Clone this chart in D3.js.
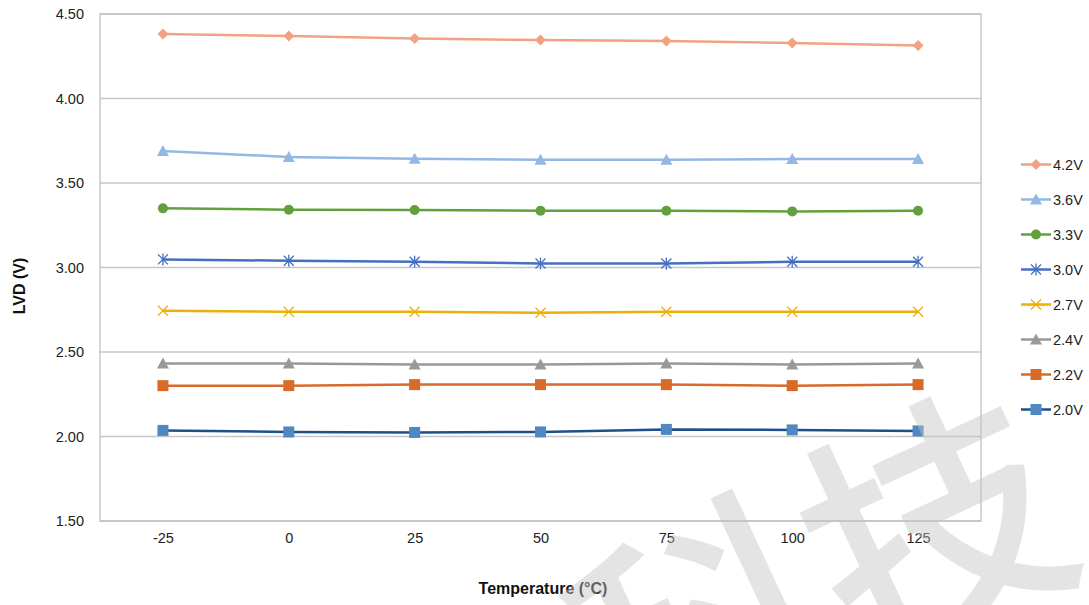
<!DOCTYPE html>
<html><head><meta charset="utf-8">
<script src="https://cdn.jsdelivr.net/npm/d3@7"></script>
<style>body{margin:0;background:#fff;} svg{display:block;font-family:"Liberation Sans",Arial,sans-serif;}</style>
</head><body>
<svg id="c" width="1089" height="605"></svg>
<script>
const temperatures = ["-25","0","25","50","75","100","125"];
const yTicks = [1.5,2.0,2.5,3.0,3.5,4.0,4.5];
const seriesNames = ["4.2V","3.6V","3.3V","3.0V","2.7V","2.4V","2.2V","2.0V"];
const v42 = [4.382,4.370,4.355,4.346,4.340,4.328,4.313];
const v36 = [3.689,3.654,3.644,3.637,3.637,3.642,3.642];
const v33 = [3.350,3.342,3.340,3.336,3.336,3.332,3.336];
const v30 = [3.048,3.040,3.034,3.024,3.024,3.034,3.034];
const v27 = [2.744,2.738,2.738,2.732,2.738,2.738,2.738];
const v24 = [2.432,2.432,2.426,2.426,2.432,2.426,2.432];
const v22 = [2.301,2.301,2.307,2.307,2.307,2.301,2.307];
const v20 = [2.036,2.027,2.024,2.027,2.042,2.039,2.033];
const seriesValues = [v42,v36,v33,v30,v27,v24,v22,v20];

const styles = [
  {line:"#F2A283", fill:"#F2A283", m:"diamond"},
  {line:"#93B8E4", fill:"#93B8E4", m:"triangle"},
  {line:"#62A03E", fill:"#62A03E", m:"circle"},
  {line:"#4470C0", fill:"#4470C0", m:"star"},
  {line:"#EBB10A", fill:"#EBB10A", m:"cross"},
  {line:"#999999", fill:"#999999", m:"triangle"},
  {line:"#D86A2A", fill:"#D86A2A", m:"square"},
  {line:"#1F4E8C", fill:"#4F88C3", m:"square"}
];

const svg = d3.select("#c");
const L=100, R=981, T=14, B=521;
const x = d3.scalePoint().domain(temperatures).range([L,R]).padding(0.5);
const y = d3.scaleLinear().domain([1.5,4.5]).range([B,T]);

// gridlines
svg.append("g").selectAll("line").data(yTicks).join("line")
  .attr("x1",L).attr("x2",R).attr("y1",d=>y(d)).attr("y2",d=>y(d))
  .attr("stroke","#c6c6c6").attr("stroke-width",1.3);
svg.append("rect").attr("x",L).attr("y",T).attr("width",R-L).attr("height",B-T)
  .attr("fill","none").attr("stroke","#c0c0c0").attr("stroke-width",1.3);

// axes
const yAxis = d3.axisLeft(y).tickValues(yTicks).tickFormat(d3.format(".2f")).tickSize(0).tickPadding(16);
const gy = svg.append("g").attr("transform",`translate(${L},0)`).call(yAxis);
gy.select(".domain").remove();
gy.selectAll("text").attr("font-size",14.5).attr("fill","#222").attr("font-family","Liberation Sans, Arial, sans-serif");

const xAxis = d3.axisBottom(x).tickSize(0).tickPadding(12);
const gx = svg.append("g").attr("transform",`translate(0,${B})`).call(xAxis);
gx.select(".domain").remove();
gx.selectAll("text").attr("font-size",14.5).attr("fill","#222").attr("font-family","Liberation Sans, Arial, sans-serif");

// titles
svg.append("text").attr("x",543).attr("y",594).attr("text-anchor","middle")
  .attr("font-size",16).attr("font-weight","bold").attr("fill","#111").text("Temperature (°C)");
svg.append("text").attr("transform","translate(25,286) rotate(-90)").attr("text-anchor","middle")
  .attr("font-size",16).attr("font-weight","bold").attr("fill","#111").text("LVD (V)");

function marker(g, type, color, cx, cy){
  if(type==="diamond"){
    g.append("path").attr("d",`M${cx},${cy-5.5}L${cx+5.5},${cy}L${cx},${cy+5.5}L${cx-5.5},${cy}Z`).attr("fill",color);
  } else if(type==="triangle"){
    g.append("path").attr("d",`M${cx},${cy-6}L${cx+6},${cy+5}L${cx-6},${cy+5}Z`).attr("fill",color);
  } else if(type==="circle"){
    g.append("circle").attr("cx",cx).attr("cy",cy).attr("r",5).attr("fill",color);
  } else if(type==="square"){
    g.append("rect").attr("x",cx-5.5).attr("y",cy-5.5).attr("width",11).attr("height",11).attr("fill",color);
  } else if(type==="cross"){
    g.append("path").attr("d",`M${cx-5},${cy-5}L${cx+5},${cy+5}M${cx-5},${cy+5}L${cx+5},${cy-5}`)
      .attr("stroke",color).attr("stroke-width",1.3).attr("fill","none");
  } else if(type==="star"){
    g.append("path").attr("d",`M${cx-5},${cy-5}L${cx+5},${cy+5}M${cx-5},${cy+5}L${cx+5},${cy-5}M${cx},${cy-6}L${cx},${cy+6}`)
      .attr("stroke",color).attr("stroke-width",1.3).attr("fill","none");
  }
}

const line = d3.line().x((d,i)=>x(temperatures[i])).y(d=>y(d));
seriesValues.forEach((vals,k)=>{
  const st = styles[k];
  const g = svg.append("g");
  g.append("path").datum(vals).attr("d",line).attr("fill","none").attr("stroke",st.line).attr("stroke-width",2.5);
  vals.forEach((v,i)=>marker(g, st.m, st.fill, x(temperatures[i]), y(v)));
});

// legend
const lg = svg.append("g");
seriesNames.forEach((n,k)=>{
  const st = styles[k];
  const ly = 164.5 + k*35;
  lg.append("line").attr("x1",1021).attr("x2",1051).attr("y1",ly).attr("y2",ly).attr("stroke",st.line).attr("stroke-width",2.5);
  marker(lg, st.m, st.fill, 1036, ly);
  lg.append("text").attr("x",1053).attr("y",ly).attr("dy","0.36em").attr("font-size",14.5).attr("fill","#222").text(n);
});

// watermark
svg.append("text").attr("transform","translate(812,566) rotate(-25)").attr("text-anchor","middle")
  .attr("dominant-baseline","central").attr("font-family","Noto Sans CJK SC").attr("font-weight",500).attr("font-size",255)
  .attr("fill","#c4c4c4").attr("fill-opacity",0.45).text("科技");
</script>
</body></html>
